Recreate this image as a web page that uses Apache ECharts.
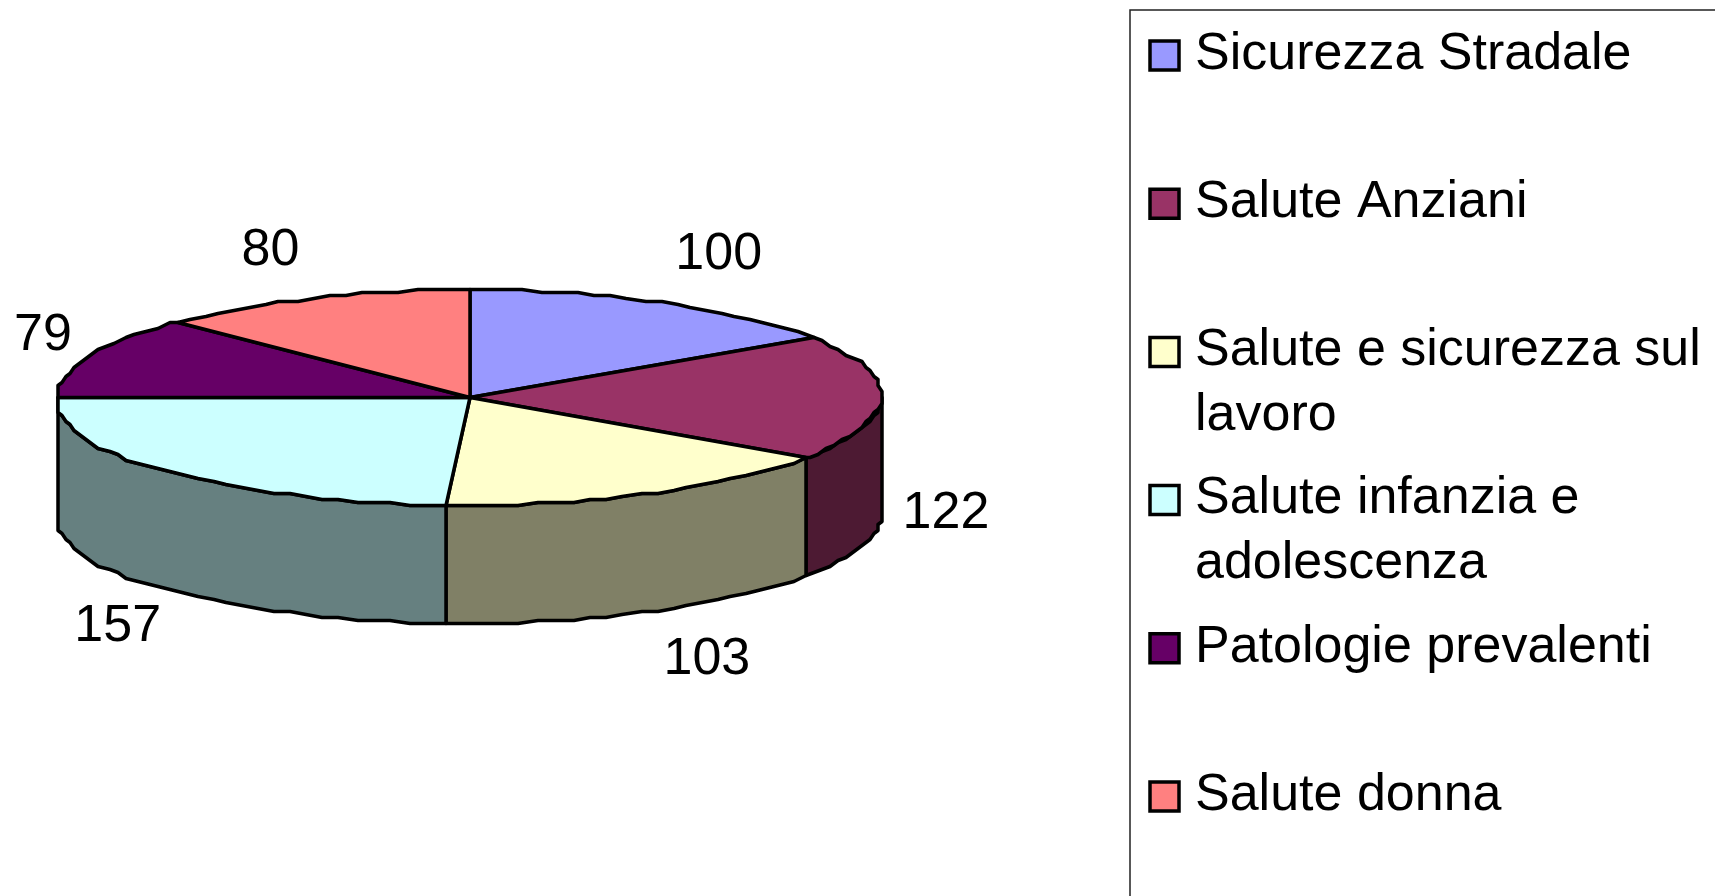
<!DOCTYPE html>
<html>
<head>
<meta charset="utf-8">
<title>Progetti per area</title>
<style>
  html, body { margin: 0; padding: 0; background: #fff; }
  #main { width: 1715px; height: 896px; }
</style>
<script src="https://cdn.jsdelivr.net/npm/echarts@6/dist/echarts.min.js"></script>
</head>
<body>
<div id="main"></div>
<script>
var categories = ['Sicurezza Stradale', 'Salute Anziani', 'Salute e sicurezza sul\nlavoro', 'Salute infanzia e\nadolescenza', 'Patologie prevalenti', 'Salute donna'];
var values = [100, 122, 103, 157, 79, 80];
var topColors = ['#9999ff', '#993366', '#ffffcc', '#ccffff', '#660066', '#ff8080'];
var sideColors = ['#4d4d80', '#4d1a33', '#808066', '#668080', '#330033', '#804040'];
var labelNudge = [[-4, -5], [5, -3], [-5, 4], [6, 4], [-3, -1], [2, -2]];

var FONT = '"Liberation Sans", Arial, sans-serif';
var pie = { cx: 470, cy: 397.5, rx: 412.5, ry: 107.5, depth: 118, lean: 6.5 };   // tilted disc
var SNAP_X = 4, SNAP_Y = 3, STEP = 2.5;                                          // the source edge is stepped, keep that look

var total = values.reduce(function(a, b) { return a + b; }, 0);

// angle in degrees, clockwise from 12 o'clock
function startAngle(idx) {
  var sum = 0;
  for (var i = 0; i < idx; i++) sum += values[i];
  return sum / total * 360;
}

function rimPoint(deg, drop) {
  var r = deg * Math.PI / 180;
  var cos = Math.cos(r);
  // front of the rim sits a little left of the centre line in the source
  var lean = cos < -1e-6 ? pie.lean * Math.sqrt(-cos) : 0;
  return [
    pie.cx + Math.round((pie.rx * Math.sin(r) - lean) / SNAP_X) * SNAP_X,
    pie.cy + Math.round(-pie.ry * cos / SNAP_Y) * SNAP_Y + (drop || 0)
  ];
}

function arc(from, to, drop) {
  var pts = [];
  for (var a = from; a < to; a += STEP) pts.push(rimPoint(a, drop));
  pts.push(rimPoint(to, drop));
  return pts;
}

function renderWall(params, api) {
  var i = params.dataIndex;
  var a0 = Math.max(startAngle(i), 90);
  var a1 = Math.min(startAngle(i) + api.value(0) / total * 360, 270);
  if (a1 <= a0) return { type: 'group', children: [] };
  var points = arc(a0, a1, 0).concat(arc(a0, a1, pie.depth).reverse());
  return {
    type: 'polygon',
    shape: { points: points },
    style: { fill: sideColors[i], stroke: '#000', lineWidth: 3.5, lineJoin: 'round' }
  };
}

function renderTop(params, api) {
  var i = params.dataIndex;
  var val = api.value(0);
  var a0 = startAngle(i);
  var a1 = a0 + val / total * 360;
  var mid = (a0 + a1) / 2 * Math.PI / 180;
  var sin = Math.sin(mid);
  var cos = Math.cos(mid);
  // label sits just outside the rim, below the wall on the front half
  var half = String(val).length * 14.5;
  var drop = cos < 0 ? pie.depth : 0;
  var lx = pie.cx + pie.rx * sin + (sin < 0 ? -1 : 1) * (half + 15) + labelNudge[i][0];
  var ly = pie.cy - pie.ry * cos + drop - cos * 49 + labelNudge[i][1];
  return {
    type: 'group',
    children: [{
      type: 'polygon',
      shape: { points: [[pie.cx, pie.cy]].concat(arc(a0, a1, 0)) },
      style: { fill: topColors[i], stroke: '#000', lineWidth: 3.5, lineJoin: 'round' }
    }, {
      type: 'text',
      z2: 10,
      style: {
        text: String(val), x: lx, y: ly,
        fill: '#000', fontSize: 52, fontFamily: FONT,
        align: 'center', verticalAlign: 'middle'
      }
    }]
  };
}

// legend box runs off the right and bottom of the picture
var legendItems = [{
  type: 'rect',
  shape: { x: 1130, y: 10, width: 700, height: 1000 },
  style: { fill: '#fff', stroke: '#222', lineWidth: 1.5 }
}];
categories.forEach(function(name, i) {
  var rowY = 55.5 + i * 148.2;
  legendItems.push({
    type: 'rect',
    shape: { x: 1150, y: rowY - 14.5, width: 29, height: 29 },
    style: { fill: topColors[i], stroke: '#000', lineWidth: 3.5 }
  });
  legendItems.push({
    type: 'text',
    style: {
      text: name, x: 1195, y: rowY - 33.5,
      lineHeight: 65,
      fill: '#000', fontSize: 52, fontFamily: FONT,
      align: 'left', verticalAlign: 'top'
    }
  });
});

var chart = echarts.init(document.getElementById('main'));
chart.setOption({
  animation: false,
  backgroundColor: '#fff',
  graphic: { elements: legendItems },
  series: [{
    type: 'custom',
    coordinateSystem: 'none',
    renderItem: renderWall,
    data: values,
    z: 1
  }, {
    type: 'custom',
    coordinateSystem: 'none',
    renderItem: renderTop,
    data: values,
    z: 2
  }]
});
</script>
</body>
</html>
